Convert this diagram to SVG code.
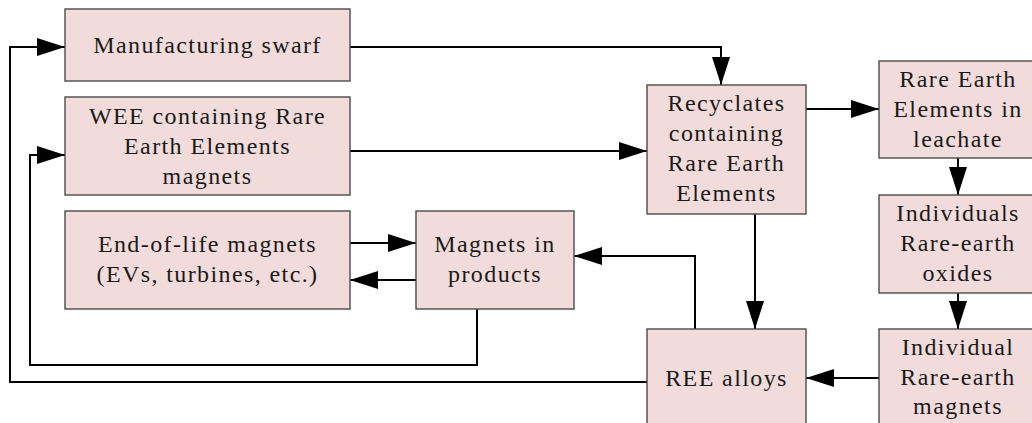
<svg xmlns="http://www.w3.org/2000/svg" width="1032" height="423" viewBox="0 0 1032 423">
<style>
.box{fill:#f2dcdb;stroke:#4a4a4a;stroke-width:1.4}
.lbl{font-size:24px;letter-spacing:1.4px;fill:#1a1a1a;text-anchor:middle}
.con{fill:none;stroke:#000;stroke-width:2}
.arr{marker-end:url(#ah)}
</style>
<defs>
<marker id="ah" markerUnits="userSpaceOnUse" markerWidth="28" markerHeight="18" refX="28" refY="9" orient="auto">
<path d="M0,0 L28,9 L0,18 z" fill="#000"/>
</marker>
</defs>
<rect width="1032" height="423" fill="#fff"/>
<g id="connectors">
<path class="con arr" d="M647,382 H10 V47 H65"/>
<path class="con arr" d="M477,309 V365 H30 V155 H65"/>
<path class="con arr" d="M350,47 H721 V85"/>
<path class="con arr" d="M350,151 H647"/>
<path class="con arr" d="M806,109 H879"/>
<path class="con arr" d="M958,158 V195"/>
<path class="con arr" d="M958,293 V329"/>
<path class="con arr" d="M879,378 H806"/>
<path class="con arr" d="M755,214 V329"/>
<path class="con arr" d="M695,329 V256 H574"/>
<path class="con arr" d="M350,243 H416"/>
<path class="con arr" d="M416,280 H350"/>
</g>
<g font-family="Liberation Serif, Tinos, Times New Roman, Noto Serif, DejaVu Serif, serif">
<g id="swarf">
<rect class="box" x="65" y="9" width="285" height="72"/>
<text class="lbl" x="207.5" y="53">Manufacturing swarf</text>
</g>
<g id="wee">
<rect class="box" x="65" y="97" width="285" height="98"/>
<text class="lbl" x="207.5" y="124">WEE containing Rare</text>
<text class="lbl" x="207.5" y="154">Earth Elements</text>
<text class="lbl" x="207.5" y="184">magnets</text>
</g>
<g id="eol">
<rect class="box" x="65" y="211" width="285" height="98"/>
<text class="lbl" x="207.5" y="252">End-of-life magnets</text>
<text class="lbl" x="207.5" y="282">(EVs, turbines, etc.)</text>
</g>
<g id="products">
<rect class="box" x="416" y="211" width="158" height="98"/>
<text class="lbl" x="495" y="252">Magnets in</text>
<text class="lbl" x="495" y="282">products</text>
</g>
<g id="recyclates">
<rect class="box" x="647" y="85" width="159" height="129"/>
<text class="lbl" x="726.5" y="111">Recyclates</text>
<text class="lbl" x="726.5" y="141">containing</text>
<text class="lbl" x="726.5" y="171">Rare Earth</text>
<text class="lbl" x="726.5" y="201">Elements</text>
</g>
<g id="leachate">
<rect class="box" x="879" y="61" width="158" height="97"/>
<text class="lbl" x="958" y="87">Rare Earth</text>
<text class="lbl" x="958" y="117">Elements in</text>
<text class="lbl" x="958" y="147">leachate</text>
</g>
<g id="oxides">
<rect class="box" x="879" y="195" width="158" height="98"/>
<text class="lbl" x="958" y="221">Individuals</text>
<text class="lbl" x="958" y="251">Rare-earth</text>
<text class="lbl" x="958" y="281">oxides</text>
</g>
<g id="magnets">
<rect class="box" x="879" y="329" width="158" height="98"/>
<text class="lbl" x="958" y="355">Individual</text>
<text class="lbl" x="958" y="385">Rare-earth</text>
<text class="lbl" x="958" y="414">magnets</text>
</g>
<g id="alloys">
<rect class="box" x="647" y="329" width="159" height="98"/>
<text class="lbl" x="726.5" y="386">REE alloys</text>
</g>
</g>
</svg>
